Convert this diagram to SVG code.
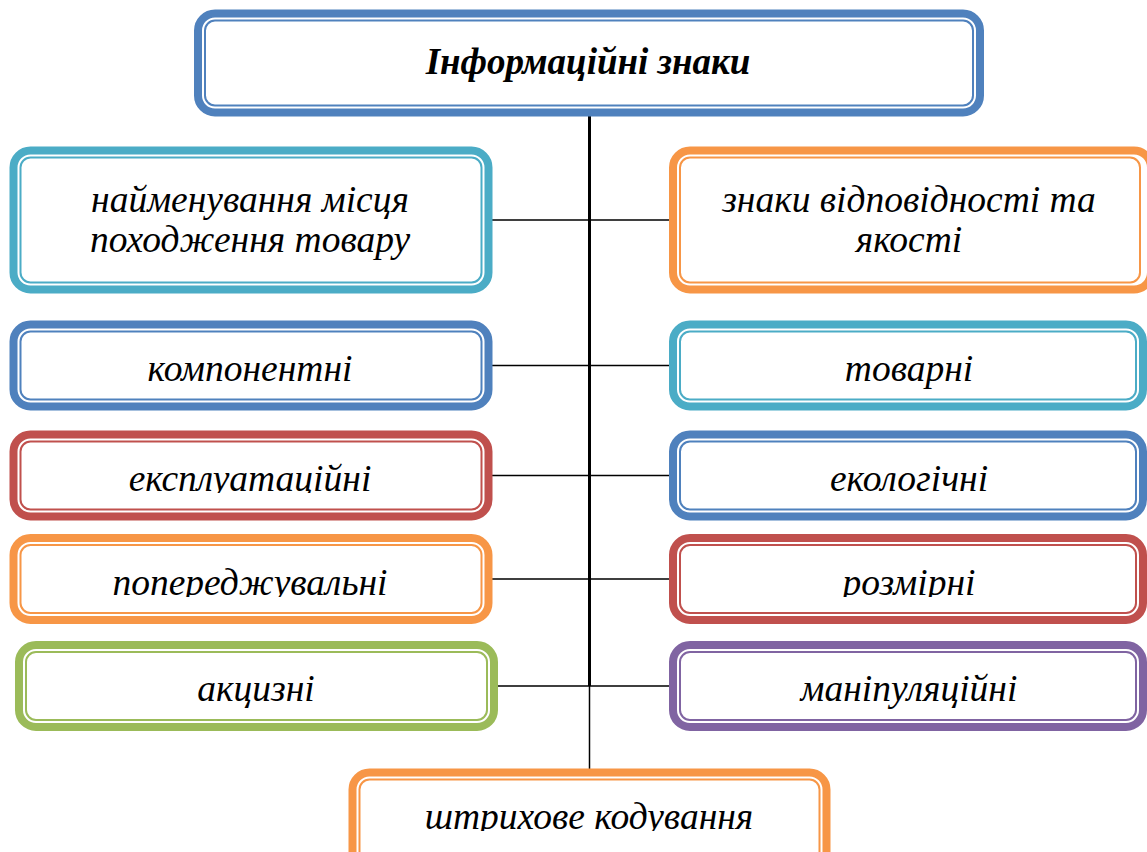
<svg xmlns="http://www.w3.org/2000/svg" width="1147" height="852" viewBox="0 0 1147 852">
<style>
.o{fill:#fff;stroke-width:8}
.i{fill:none;stroke-width:2}
.t{font-family:"Liberation Serif","Times New Roman",serif;font-style:italic;font-size:37.5px;fill:#000;text-anchor:middle}
.h{font-weight:bold;font-size:37px}
.blue{stroke:#4F81BD}.teal{stroke:#4BACC6}.org{stroke:#F79646}.red{stroke:#C0504D}.grn{stroke:#9BBB59}.pur{stroke:#8064A2}
.c{stroke:#000;fill:none}
</style>
<defs>
<clipPath id="c1"><rect x="0" y="0" width="1147" height="493"/></clipPath>
<clipPath id="c2"><rect x="0" y="0" width="1147" height="597"/></clipPath>
<clipPath id="c3"><rect x="0" y="0" width="1147" height="831"/></clipPath>
</defs>
<g id="connectors">
<path class="c" d="M589.5 116V686" stroke-width="3"/>
<path class="c" d="M589.5 686V769" stroke-width="1.5"/>
<path class="c" d="M492 220H669M492 365.5H669M492 475.5H669M492 579H669M497 686H669" stroke-width="1.5"/>
</g>
<g id="n0"><rect class="o blue" x="198" y="13.5" width="782" height="99" rx="17"/><rect class="i blue" x="205" y="20.5" width="768" height="85" rx="10"/><text class="t h" x="588" y="74">Інформаційні знаки</text></g>
<g id="n1"><rect class="o teal" x="13.5" y="150.5" width="475" height="139" rx="17"/><rect class="i teal" x="20.5" y="157.5" width="461" height="125" rx="10"/><text class="t" x="250" y="212">найменування місця</text><text class="t" x="250" y="252">походження товару</text></g>
<g id="n2"><rect class="o org" x="673" y="150.5" width="478" height="139" rx="17"/><rect class="i org" x="680" y="157.5" width="460" height="125" rx="10"/><text class="t" x="909" y="212">знаки відповідності та</text><text class="t" x="909" y="252">якості</text></g>
<g id="n3"><rect class="o blue" x="13.5" y="324.5" width="475" height="82" rx="17"/><rect class="i blue" x="20.5" y="331.5" width="461" height="68" rx="10"/><text class="t" x="250" y="381">компонентні</text></g>
<g id="n4"><rect class="o teal" x="673" y="324.5" width="470" height="82" rx="17"/><rect class="i teal" x="680" y="331.5" width="456" height="68" rx="10"/><text class="t" x="909" y="381">товарні</text></g>
<g id="n5"><rect class="o red" x="13.5" y="434.5" width="475" height="82" rx="17"/><rect class="i red" x="20.5" y="441.5" width="461" height="68" rx="10"/><text class="t" x="250" y="491" clip-path="url(#c1)">експлуатаційні</text></g>
<g id="n6"><rect class="o blue" x="673" y="434.5" width="470" height="82" rx="17"/><rect class="i blue" x="680" y="441.5" width="456" height="68" rx="10"/><text class="t" x="909" y="491">екологічні</text></g>
<g id="n7"><rect class="o org" x="13.5" y="538" width="475" height="82" rx="17"/><rect class="i org" x="20.5" y="545" width="461" height="68" rx="10"/><text class="t" x="250" y="595" clip-path="url(#c2)">попереджувальні</text></g>
<g id="n8"><rect class="o red" x="673" y="538" width="470" height="82" rx="17"/><rect class="i red" x="680" y="545" width="456" height="68" rx="10"/><text class="t" x="909" y="595" clip-path="url(#c2)">розмірні</text></g>
<g id="n9"><rect class="o grn" x="19" y="645" width="475" height="82" rx="17"/><rect class="i grn" x="26" y="652" width="461" height="68" rx="10"/><text class="t" x="256" y="701">акцизні</text></g>
<g id="n10"><rect class="o pur" x="673" y="645" width="470" height="82" rx="17"/><rect class="i pur" x="680" y="652" width="456" height="68" rx="10"/><text class="t" x="909" y="701">маніпуляційні</text></g>
<g id="n11"><rect class="o org" x="352.5" y="772.5" width="474" height="100" rx="17"/><rect class="i org" x="359.5" y="779.5" width="460" height="86" rx="10"/><text class="t" x="589" y="829" clip-path="url(#c3)">штрихове кодування</text></g>
</svg>
